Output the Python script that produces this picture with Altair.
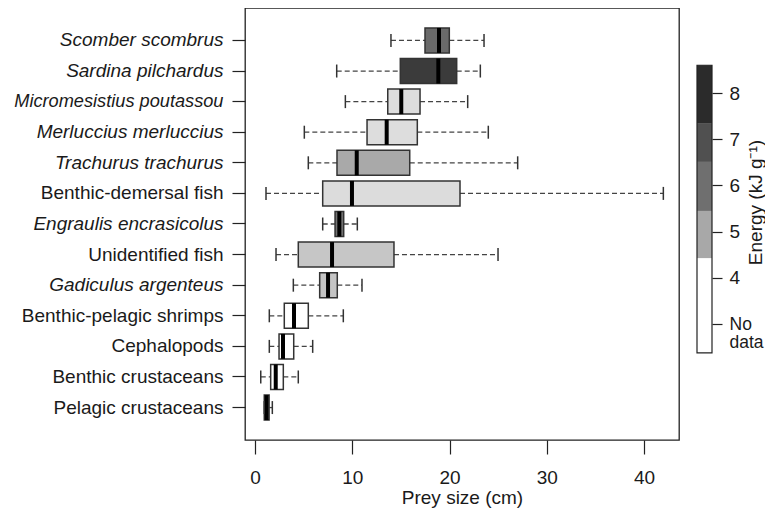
import altair as alt
import pandas as pd

# ---- data ----
categories = ["Scomber scombrus", "Sardina pilchardus", "Micromesistius poutassou",
              "Merluccius merluccius", "Trachurus trachurus", "Benthic-demersal fish",
              "Engraulis encrasicolus", "Unidentified fish", "Gadiculus argenteus",
              "Benthic-pelagic shrimps", "Cephalopods", "Benthic crustaceans",
              "Pelagic crustaceans"]
italic_names = ["Scomber scombrus", "Sardina pilchardus", "Micromesistius poutassou",
                "Merluccius merluccius", "Trachurus trachurus", "Engraulis encrasicolus",
                "Gadiculus argenteus"]
lower_whisker = [13.98, 8.40, 9.29, 5.07, 5.48, 1.13, 6.96, 2.16, 3.94, 1.47, 1.47, 0.59, 0.95]
q1 = [17.48, 14.94, 13.65, 11.52, 8.43, 6.96, 8.23, 4.45, 6.65, 3.01, 2.47, 1.61, 0.95]
median = [18.92, 18.85, 15.04, 13.54, 10.46, 9.97, 8.67, 7.92, 7.51, 4.01, 2.88, 2.13, 1.20]
q3 = [19.98, 20.74, 16.97, 16.69, 15.91, 21.08, 9.12, 14.29, 8.46, 5.48, 3.98, 2.91, 1.45]
upper_whisker = [23.55, 23.17, 21.87, 23.99, 27.01, 41.99, 10.52, 24.99, 11.00, 9.08, 5.93, 4.45, 1.78]
box_fill = ["#6a6a6a", "#3b3b3b", "#dddddd", "#dddddd", "#a9a9a9", "#dcdcdc",
            "#747474", "#c6c6c6", "#c4c4c4", "#ffffff", "#ffffff", "#ffffff", "#ffffff"]

legend_low = [2.38, 4.43, 5.45, 6.51, 7.35]
legend_high = [4.43, 5.45, 6.51, 7.35, 8.60]
legend_fill = ["#ffffff", "#a8a8a8", "#6f6f6f", "#505050", "#2b2b2b"]
legend_ticks = [3, 4, 5, 6, 7, 8]
x_ticks = [0, 10, 20, 30, 40]

FONT = "Liberation Sans"
FS = 19

df = pd.DataFrame(dict(cat=categories, lo=lower_whisker, q1=q1, med=median,
                       q3=q3, hi=upper_whisker, fill=box_fill))

italic_test = "indexof(" + str(italic_names) + ", datum.value) >= 0"

y_enc = alt.Y("cat:N", sort=categories,
              scale=alt.Scale(paddingInner=0, paddingOuter=0.56),
              axis=alt.Axis(title=None, tickSize=13, labelPadding=9, domain=False,
                            labelFont=FONT, labelColor="#1a1a1a",
                            tickColor="#222", tickWidth=1.2, labelLimit=400,
                            labelFontSize={"condition": {"test": "datum.value == 'Micromesistius poutassou'",
                                                         "value": 18.2},
                                           "value": FS},
                            labelFontStyle={"condition": {"test": italic_test, "value": "italic"},
                                            "value": "normal"}))
x_scale = alt.Scale(domain=[-1.03, 43.6], nice=False, zero=False)
x_enc = alt.X("lo:Q", scale=x_scale,
              axis=alt.Axis(values=x_ticks, title="Prey size (cm)", tickSize=14,
                            labelPadding=14, domain=False, grid=False,
                            labelFontSize=FS, labelFont=FONT, labelColor="#1a1a1a",
                            titleFontSize=FS, titleFont=FONT, titleFontWeight="normal",
                            titleColor="#1a1a1a", titleY=63, titleBaseline="alphabetic",
                            tickColor="#222", tickWidth=1.2))

base = alt.Chart(df)
dash = dict(strokeDash=[5, 3], color="#444", strokeWidth=1.3)
whisk_lo = base.mark_rule(**dash).encode(x=x_enc, x2="q1:Q", y=y_enc)
whisk_hi = base.mark_rule(**dash).encode(x=alt.X("q3:Q", scale=x_scale), x2="hi:Q", y=y_enc)
boxes = base.mark_bar(size=25, stroke="#333", strokeWidth=1.5).encode(
    x=alt.X("q1:Q", scale=x_scale), x2="q3:Q", y=y_enc,
    fill=alt.Fill("fill:N", scale=None))
meds = base.mark_tick(size=25, thickness=4, color="#000", opacity=1).encode(
    x=alt.X("med:Q", scale=x_scale), y=y_enc)
cap_lo = base.mark_tick(size=13, thickness=1.5, color="#333", opacity=1).encode(
    x=alt.X("lo:Q", scale=x_scale), y=y_enc)
cap_hi = base.mark_tick(size=13, thickness=1.5, color="#333", opacity=1).encode(
    x=alt.X("hi:Q", scale=x_scale), y=y_enc)

main = alt.layer(whisk_lo, whisk_hi, boxes, meds, cap_lo, cap_hi)

# ---- legend (colour bar) ----
leg_df = pd.DataFrame(dict(lo=legend_low, hi=legend_high, fill=legend_fill))
ly = alt.Y("lo:Q", scale=alt.Scale(domain=[0.497, 9.838], nice=False, zero=False),
           axis=alt.Axis(orient="right", offset=33, values=legend_ticks, domain=False,
                         grid=False, tickSize=10, tickColor="#222", tickWidth=1.2,
                         labelPadding=7, labelFont=FONT,
                         labelFontSize={"condition": {"test": "datum.value == 3", "value": 17.5},
                                        "value": FS},
                         labelColor="#1a1a1a", labelAlign="left", labelBaseline="middle",
                         labelLineHeight=18,
                         labelExpr="datum.value == 3 ? ['No', 'data'] : datum.label",
                         title="Energy (kJ g\u207b\u00b9)", titleFontSize=FS, titleFont=FONT,
                         titleFontWeight="normal", titleColor="#1a1a1a", titleAngle=270,
                         titleX=43, titleY=194, titleAlign="center", titleBaseline="middle"))
leg_rects = alt.Chart(leg_df).mark_rect().encode(
    x=alt.value(452), x2=alt.value(467), y=ly, y2="hi:Q",
    fill=alt.Fill("fill:N", scale=None))
frame_df = pd.DataFrame(dict(lo=[legend_low[0]], hi=[legend_high[-1]]))
leg_frame = alt.Chart(frame_df).mark_rect(fillOpacity=0, stroke="#222", strokeWidth=1.2).encode(
    x=alt.value(452), x2=alt.value(467), y=alt.Y("lo:Q"), y2="hi:Q")
legend = alt.layer(leg_rects, leg_frame)

chart = alt.layer(main, legend).resolve_scale(y="independent").properties(
    width=434, height=432,
    autosize=alt.AutoSizeParams(type="none"),
    padding={"left": 237, "top": 0, "right": 86, "bottom": 68},
).configure(font=FONT).configure_view(stroke="#222", strokeWidth=1.3)

chart.save("out.html", embed_options={"renderer": "svg", "actions": False})
